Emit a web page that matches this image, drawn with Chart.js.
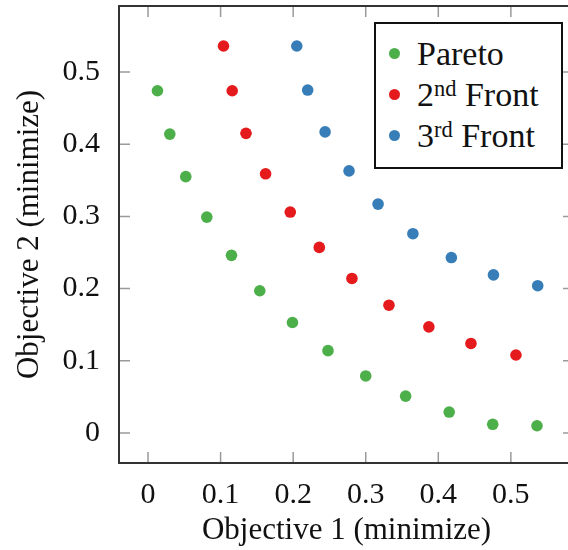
<!DOCTYPE html>
<html>
<head>
<meta charset="utf-8">
<script src="https://cdn.jsdelivr.net/npm/chart.js@4.4.0/dist/chart.umd.min.js"></script>
<style>
    html, body { margin: 0; padding: 0; background: #fff; overflow: hidden; }
    #wrap { position: relative; width: 580px; height: 550px; }
    #legend {
        position: absolute; left: 374px; top: 22px; width: 189px; height: 147px;
        box-sizing: border-box; border: 2px solid #111; background: #fff;
        font-family: "Liberation Serif", serif; font-size: 34px; color: #111;
    }
    .row { position: absolute; left: 0; height: 41px; line-height: 41px; white-space: nowrap; }
    .dot { position: absolute; left: 13px; top: 15px; width: 11px; height: 11px; border-radius: 50%; }
    .txt { position: absolute; left: 41px; top: 0; }
    .txt sup { font-size: 0.66em; vertical-align: 0; position: relative; top: -0.45em; line-height: 0; }
</style>
</head>
<body>
<div id="wrap">
    <canvas id="chartArea" width="580" height="550"></canvas>
    <div id="legend"></div>
</div>
<script>
// values
const paretoX = [0.013, 0.030, 0.052, 0.081, 0.115, 0.154, 0.199, 0.248, 0.300, 0.355, 0.415, 0.475, 0.536];
const paretoY = [0.474, 0.414, 0.355, 0.299, 0.246, 0.197, 0.153, 0.114, 0.079, 0.051, 0.029, 0.012, 0.010];
const front2X = [0.104, 0.116, 0.135, 0.162, 0.196, 0.236, 0.281, 0.332, 0.387, 0.445, 0.507];
const front2Y = [0.536, 0.474, 0.415, 0.359, 0.306, 0.257, 0.214, 0.177, 0.147, 0.124, 0.108];
const front3X = [0.205, 0.220, 0.244, 0.277, 0.317, 0.365, 0.418, 0.476, 0.537];
const front3Y = [0.536, 0.475, 0.417, 0.363, 0.317, 0.276, 0.243, 0.219, 0.204];

const seriesNames = ['Pareto', '2<sup>nd</sup> Front', '3<sup>rd</sup> Front'];
const seriesColors = ['#4daf4a', '#e41a1c', '#377eb8'];
const xTitle = 'Objective 1 (minimize)';
const yTitle = 'Objective 2 (minimize)';

const FONT = 'Liberation Serif';

function toPoints(xs, ys) {
    return xs.map((x, i) => ({ x: x, y: ys[i] }));
}

const seriesData = [
    toPoints(paretoX, paretoY),
    toPoints(front2X, front2Y),
    toPoints(front3X, front3Y)
];

// box + inward ticks on all four sides
const framePlugin = {
    id: 'frame',
    beforeDatasetsDraw(chart) {
        const ctx = chart.ctx;
        const a = chart.chartArea;
        const len = 11;
        ctx.save();
        ctx.strokeStyle = '#9a9a9a';
        ctx.lineWidth = 1.5;
        ctx.beginPath();
        chart.scales.x.ticks.forEach(t => {
            const px = chart.scales.x.getPixelForValue(t.value);
            ctx.moveTo(px, a.bottom); ctx.lineTo(px, a.bottom - len);
            ctx.moveTo(px, a.top); ctx.lineTo(px, a.top + len);
        });
        chart.scales.y.ticks.forEach(t => {
            const py = chart.scales.y.getPixelForValue(t.value);
            ctx.moveTo(a.left, py); ctx.lineTo(a.left + len, py);
            ctx.moveTo(a.right, py); ctx.lineTo(a.right - len, py);
        });
        ctx.stroke();
        ctx.strokeStyle = '#333';
        ctx.lineWidth = 2;
        ctx.strokeRect(a.left, a.top, a.right - a.left, a.bottom - a.top);
        ctx.restore();
    }
};

const ctx = document.getElementById('chartArea').getContext('2d');
const chart = new Chart(ctx, {
    type: 'scatter',
    data: {
        datasets: seriesData.map((pts, i) => ({
            label: seriesNames[i],
            data: pts,
            backgroundColor: seriesColors[i],
            borderWidth: 0,
            pointRadius: 5.8,
            pointHoverRadius: 5.8
        }))
    },
    options: {
        responsive: false,
        animation: false,
        layout: { padding: { top: 6, right: 6, left: 0, bottom: 0 } },
        plugins: {
            legend: { display: false },
            tooltip: { enabled: false }
        },
        scales: {
            x: {
                type: 'linear',
                min: -0.04,
                max: 0.587,
                border: { display: false },
                grid: { display: false },
                afterFit: s => {
                    s.height = 87;
                    s.paddingLeft = 0;
                    s.paddingRight = 0;
                },
                ticks: {
                    stepSize: 0.1,
                    includeBounds: false,
                    padding: 6,
                    color: '#111',
                    font: { family: FONT, size: 30 },
                    maxRotation: 0,
                    callback: v => String(+v.toFixed(1))
                },
                title: {
                    display: true,
                    text: xTitle,
                    color: '#111',
                    font: { family: FONT, size: 31 },
                    padding: { top: 0, bottom: 1 }
                }
            },
            y: {
                type: 'linear',
                min: -0.0416,
                max: 0.5914,
                border: { display: false },
                grid: { display: false },
                afterFit: s => {
                    s.width = 119;
                    s.paddingTop = 0;
                    s.paddingBottom = 0;
                },
                ticks: {
                    stepSize: 0.1,
                    includeBounds: false,
                    padding: 11,
                    color: '#111',
                    font: { family: FONT, size: 30 },
                    callback: v => String(+v.toFixed(1))
                },
                title: {
                    display: true,
                    text: yTitle,
                    color: '#111',
                    font: { family: FONT, size: 31 },
                    padding: { top: 11, bottom: 0 }
                }
            }
        }
    },
    plugins: [framePlugin]
});

// legend with superscripts, built from the datasets
const legend = document.getElementById('legend');
chart.data.datasets.forEach((ds, i) => {
    const row = document.createElement('div');
    row.className = 'row';
    row.style.top = (9 + 41 * i) + 'px';
    row.innerHTML = '<span class="dot" style="background:' + ds.backgroundColor + '"></span>' +
        '<span class="txt">' + ds.label + '</span>';
    legend.appendChild(row);
});
</script>
</body>
</html>
